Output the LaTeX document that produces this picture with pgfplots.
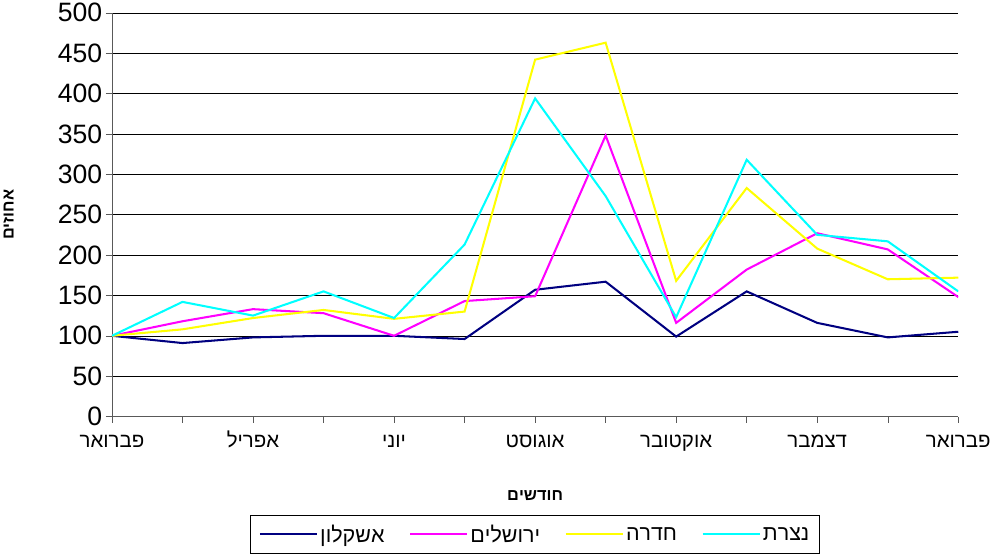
\documentclass[border=0pt]{standalone}
\usepackage{fontspec}
\setmainfont{Liberation Sans}
\TeXXeTstate=1
\usepackage{pgfplots}
\pgfplotsset{compat=1.18}
\newcommand{\R}[1]{\beginR #1\endR}
\begin{document}
\begin{tikzpicture}
\begin{axis}[
  scale only axis, width=828pt, height=395pt,
  xmin=0, xmax=12, ymin=0, ymax=500,
  axis x line=bottom, axis y line=left,
  axis line style={-, gray!70!black},
  ytick={0,50,...,500},
  ymajorgrids, grid style={black, thin},
  xtick={0,...,12},
  xticklabels={\R{פברואר},,\R{אפריל},,\R{יוני},,\R{אוגוסט},,\R{אוקטובר},,\R{דצמבר},,\R{פברואר}},
  tick style={gray!70!black, thin},
  tick align=outside, major tick length=6pt,
  xticklabel style={font=\fontsize{20}{24}\selectfont, text height=15pt, text depth=5pt, yshift=-6pt},
  yticklabel style={font=\fontsize{26}{30}\selectfont},
  /pgf/number format/assume math mode=true,
  xlabel={\bfseries\R{חודשים}},
  ylabel={\bfseries\R{אחוזים}},
  label style={font=\fontsize{16}{19}\selectfont},
  xlabel style={yshift=-30pt},
  ylabel style={at={(axis description cs:-0.112,0.5)}, anchor=south},
  legend columns=4,
  legend style={at={(0.5,-0.245)}, anchor=north, draw=black, font=\fontsize{21}{25}\selectfont,
    inner ysep=7pt, inner xsep=8pt,
    /tikz/every even column/.append style={column sep=22pt}},
  legend image code/.code={\draw[#1, line width=2pt] (0pt,0pt) -- (56pt,0pt);},
  every axis plot/.append style={line width=2pt},
]
\addplot[color={rgb,255:red,0;green,0;blue,128}] coordinates {(0,100)(1,91)(2,98)(3,100)(4,100)(5,96)(6,157)(7,167)(8,99)(9,155)(10,116)(11,98)(12,105)};
\addlegendentry{\R{אשקלון}}
\addplot[color={rgb,255:red,255;green,0;blue,255}] coordinates {(0,100)(1,118)(2,133)(3,128)(4,100)(5,143)(6,149)(7,348)(8,116)(9,182)(10,227)(11,207)(12,148)};
\addlegendentry{\R{ירושלים}}
\addplot[color={rgb,255:red,255;green,255;blue,0}] coordinates {(0,100)(1,108)(2,122)(3,132)(4,121)(5,130)(6,442)(7,463)(8,168)(9,283)(10,208)(11,170)(12,172)};
\addlegendentry{\R{חדרה}}
\addplot[color={rgb,255:red,0;green,255;blue,255}] coordinates {(0,100)(1,142)(2,125)(3,155)(4,122)(5,213)(6,394)(7,273)(8,123)(9,318)(10,225)(11,217)(12,155)};
\addlegendentry{\R{נצרת}}
\end{axis}
\end{tikzpicture}
\end{document}
